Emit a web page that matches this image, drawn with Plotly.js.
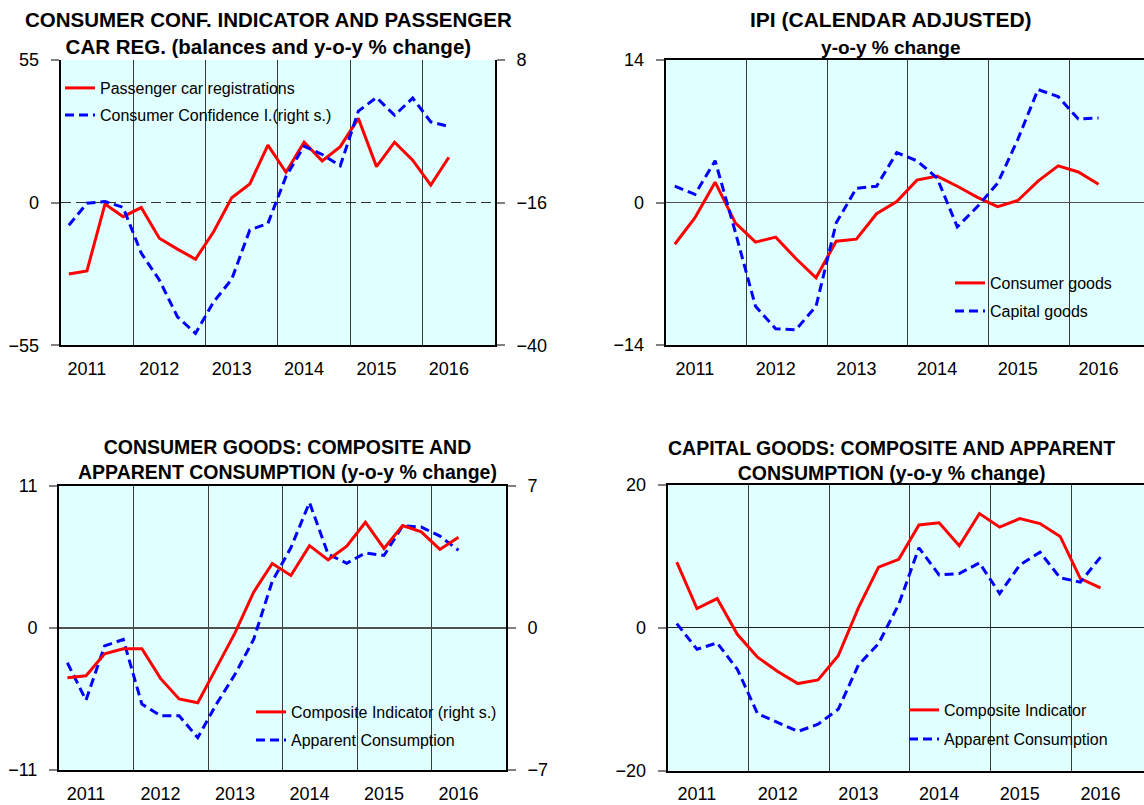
<!DOCTYPE html>
<html>
<head>
<meta charset="utf-8">
<script src="https://cdn.plot.ly/plotly-3.0.1.min.js"></script>
<style>
html,body{margin:0;padding:0;overflow:hidden;background:#fff;}
#chart{width:1160px;height:805px;}
</style>
</head>
<body>
<div id="chart"></div>
<script>
// ---------- DATA ----------
const quarters = ['2011Q1','2011Q2','2011Q3','2011Q4','2012Q1','2012Q2','2012Q3','2012Q4',
  '2013Q1','2013Q2','2013Q3','2013Q4','2014Q1','2014Q2','2014Q3','2014Q4',
  '2015Q1','2015Q2','2015Q3','2015Q4','2016Q1','2016Q2'];
const years = ['2011','2012','2013','2014','2015','2016'];

// Panel 1: passenger car registrations (left axis), consumer confidence (right axis)
const carReg   = [-27.5,-26.3,-0.5,-5.4,-1.9,-13.7,-17.9,-21.8,-11.2,1.9,7.2,22.2,11.7,23.3,16.1,21.6,32.5,13.9,23.3,16.4,6.8,17.5];
const consConf = [-19.8,-16.1,-15.8,-16.8,-24.5,-29.0,-35.2,-38.0,-32.7,-28.9,-20.6,-19.5,-11.6,-6.5,-7.9,-9.8,-0.6,1.7,-1.3,1.6,-2.4,-3.2];

// Panel 2: IPI calendar adjusted
const ipiConsumer = [-4.1,-1.5,2.0,-2.0,-3.9,-3.4,-5.5,-7.4,-3.8,-3.6,-1.1,0.1,2.2,2.6,1.6,0.5,-0.4,0.2,2.1,3.6,3.0,1.8];
const ipiCapital  = [1.6,0.8,4.1,-2.9,-10.2,-12.4,-12.5,-10.2,-2.0,1.4,1.6,4.9,4.1,2.4,-2.4,-0.4,1.9,6.2,11.1,10.4,8.2,8.3];

// Panel 3: consumer goods
const cgComposite = [-2.46,-2.36,-1.28,-1.03,-1.03,-2.49,-3.50,-3.69,-1.97,-0.25,1.76,3.17,2.58,4.05,3.35,4.02,5.20,3.91,5.04,4.73,3.86,4.46];
const cgApparent  = [-2.7,-5.6,-1.4,-0.9,-5.9,-6.8,-6.8,-8.5,-5.9,-3.6,-0.9,3.6,6.2,9.7,5.7,5.0,5.8,5.6,7.9,7.8,7.1,6.0];

// Panel 4: capital goods
const kgComposite = [9.2,2.7,4.1,-0.9,-4.1,-6.1,-7.8,-7.3,-3.9,2.8,8.5,9.6,14.4,14.7,11.5,16.0,14.1,15.3,14.6,12.8,6.9,5.6];
const kgApparent  = [0.6,-3.0,-2.1,-5.8,-12.0,-13.3,-14.5,-13.5,-11.4,-5.2,-2.2,3.3,11.2,7.4,7.6,9.1,4.8,8.8,10.6,7.0,6.4,9.9];

// ---------- LAYOUT HELPERS ----------
const W = 1160, H = 805;
const px = v => v / W;
const py = v => 1 - v / H;
const xq = quarters.map((q, i) => i + 0.45);
const tickPos = years.map((y, k) => 4 * k + 1.45);
const yearGrid = years.slice(1).map((y, k) => 4 * (k + 1));

const RED = '#FF0000', BLUE = '#0000FF';
const FONT = 'Liberation Sans, Arial, sans-serif';

function xaxisDef(dom, anchor, mirror) {
  return {
    domain: dom, anchor: anchor, range: [0, 24], fixedrange: true,
    tickmode: 'array', tickvals: tickPos, ticktext: years,
    ticks: '', showgrid: false, zeroline: false,
    showline: true, linecolor: '#000', linewidth: 2, mirror: mirror,
    tickfont: {size: 18, color: '#000', family: FONT},
    ticklabelstandoff: 6,
    minor: {tickmode: 'array', tickvals: yearGrid, showgrid: true, gridcolor: '#3a3a3a', gridwidth: 1, ticks: ''}
  };
}
function yaxisDef(dom, anchor, lim, opts) {
  return Object.assign({
    domain: dom, anchor: anchor, range: [-lim, lim], fixedrange: true,
    tickmode: 'array', tickvals: [-lim, 0, lim],
    ticks: 'outside', ticklen: 8, tickwidth: 2, tickcolor: '#808080',
    showgrid: true, gridcolor: '#505050', gridwidth: 1.5, zeroline: false,
    showline: true, linecolor: '#000', linewidth: 2,
    tickfont: {size: 18, color: '#000', family: FONT},
    ticklabelstandoff: 8
  }, opts || {});
}

const d1x = [px(60.7), px(495)],  d1y = [py(345.3), py(60)];
const d2x = [px(665.7), px(1150)], d2y = [py(345), py(60)];
const d3x = [px(59), px(506)],    d3y = [py(770), py(485.7)];
const d4x = [px(667.7), px(1152)], d4y = [py(770.7), py(485)];

function line(name, x, y, color, dashed, xa, ya, leg) {
  return {
    type: 'scatter', mode: 'lines', name: name, x: x, y: y,
    xaxis: xa, yaxis: ya, legend: leg, showlegend: true, hoverinfo: 'skip',
    line: {color: color, width: 3, dash: dashed ? '9px,5px' : 'solid'}
  };
}

const traces = [
  line('Passenger car registrations', xq, carReg, RED, false, 'x', 'y', 'legend'),
  line('Consumer Confidence I.(right s.)', xq, consConf, BLUE, true, 'x', 'y2', 'legend2'),
  line('Consumer goods', xq, ipiConsumer, RED, false, 'x2', 'y3', 'legend3'),
  line('Capital goods', xq, ipiCapital, BLUE, true, 'x2', 'y3', 'legend4'),
  line('Composite Indicator (right s.)', xq, cgComposite, RED, false, 'x3', 'y5', 'legend5'),
  line('Apparent Consumption', xq, cgApparent, BLUE, true, 'x3', 'y4', 'legend6'),
  line('Composite Indicator', xq, kgComposite, RED, false, 'x4', 'y6', 'legend7'),
  line('Apparent Consumption', xq, kgApparent, BLUE, true, 'x4', 'y6', 'legend8')
];

function leg(textX, textY) {
  return {
    x: px(textX - 40), y: py(textY), xanchor: 'left', yanchor: 'middle',
    bgcolor: 'rgba(0,0,0,0)', borderwidth: 0, visible: true,
    font: {size: 16, color: '#000', family: FONT}
  };
}

function title(text, cx, cy, size) {
  return {
    text: text, xref: 'paper', yref: 'paper', x: px(cx), y: py(cy),
    xanchor: 'center', yanchor: 'middle', showarrow: false, align: 'center',
    font: {size: size, color: '#000', family: FONT, weight: 'bold'}
  };
}

const layout = {
  width: W, height: H,
  showlegend: true,
  margin: {l: 0, r: 0, t: 0, b: 0},
  paper_bgcolor: '#FFFFFF', plot_bgcolor: '#E0FFFF',
  font: {family: FONT, color: '#000'},
  xaxis: xaxisDef(d1x, 'y', false),
  yaxis: yaxisDef(d1y, 'x', 55, {griddash: '10px,5px', gridcolor: '#303030'}),
  yaxis2: {
    overlaying: 'y', side: 'right', anchor: 'x', range: [-40, 8], fixedrange: true,
    tickmode: 'array', tickvals: [-40, -16, 8],
    ticks: 'outside', ticklen: 8, tickwidth: 2, tickcolor: '#808080',
    showgrid: false, zeroline: false, showline: true, linecolor: '#000', linewidth: 2,
    tickfont: {size: 18, color: '#000', family: FONT}, ticklabelstandoff: 8
  },
  xaxis2: xaxisDef(d2x, 'y3', true),
  yaxis3: yaxisDef(d2y, 'x2', 14),
  xaxis3: xaxisDef(d3x, 'y4', true),
  yaxis4: yaxisDef(d3y, 'x3', 11),
  yaxis5: {
    overlaying: 'y4', side: 'right', anchor: 'x3', range: [-7, 7], fixedrange: true,
    tickmode: 'array', tickvals: [-7, 0, 7],
    ticks: 'outside', ticklen: 8, tickwidth: 2, tickcolor: '#808080',
    showgrid: false, zeroline: false, showline: true, linecolor: '#000', linewidth: 2,
    tickfont: {size: 18, color: '#000', family: FONT}, ticklabelstandoff: 8
  },
  xaxis4: xaxisDef(d4x, 'y6', true),
  yaxis6: yaxisDef(d4y, 'x4', 20, {gridcolor: '#202020', gridwidth: 1}),
  legend:  leg(100, 88),
  legend2: leg(100, 115),
  legend3: leg(990, 283),
  legend4: leg(990, 311),
  legend5: leg(291, 712),
  legend6: leg(291, 740),
  legend7: leg(944, 710),
  legend8: leg(944, 739),
  annotations: [
    title('CONSUMER CONF. INDICATOR AND PASSENGER<br>CAR REG. (balances and y-o-y % change)', 268, 33, 20.5),
    title('IPI (CALENDAR ADJUSTED)<br><span style="font-size:19px">y-o-y % change</span>', 891, 33, 21),
    title('CONSUMER GOODS: COMPOSITE AND<br>APPARENT CONSUMPTION (y-o-y % change)', 287, 459, 19.5),
    title('CAPITAL GOODS: COMPOSITE AND APPARENT<br>CONSUMPTION (y-o-y % change)', 891, 460, 19.5)
  ]
};

Plotly.newPlot('chart', traces, layout, {displayModeBar: false, staticPlot: true});
</script>
</body>
</html>
